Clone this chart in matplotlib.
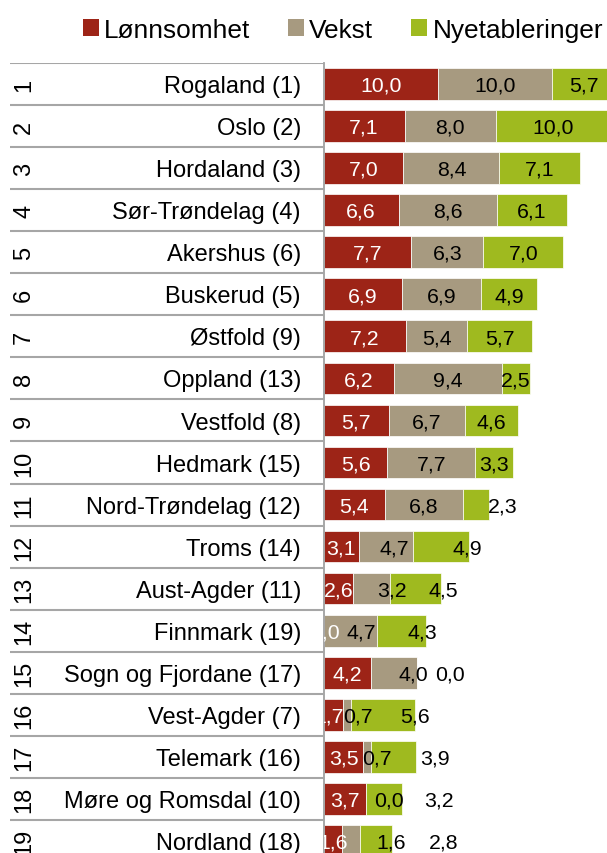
import matplotlib.pyplot as plt
from matplotlib.patches import Patch
import numpy as np

plt.rcParams['font.family'] = ['Liberation Sans', 'DejaVu Sans']

# fylker, rangert, med fjorårets plassering i parentes
fylker = ["Rogaland (1)", "Oslo (2)", "Hordaland (3)", "Sør-Trøndelag (4)", "Akershus (6)",
          "Buskerud (5)", "Østfold (9)", "Oppland (13)", "Vestfold (8)", "Hedmark (15)",
          "Nord-Trøndelag (12)", "Troms (14)", "Aust-Agder (11)", "Finnmark (19)",
          "Sogn og Fjordane (17)", "Vest-Agder (7)", "Telemark (16)", "Møre og Romsdal (10)",
          "Nordland (18)"]
lonnsomhet = [10.0, 7.1, 7.0, 6.6, 7.7, 6.9, 7.2, 6.2, 5.7, 5.6, 5.4, 3.1, 2.6, 0.0, 4.2, 1.7, 3.5, 3.7, 1.6]
vekst = [10.0, 8.0, 8.4, 8.6, 6.3, 6.9, 5.4, 9.4, 6.7, 7.7, 6.8, 4.7, 3.2, 4.7, 4.0, 0.7, 0.7, 0.0, 1.6]
nyetableringer = [5.7, 10.0, 7.1, 6.1, 7.0, 4.9, 5.7, 2.5, 4.6, 3.3, 2.3, 4.9, 4.5, 4.3, 0.0, 5.6, 3.9, 3.2, 2.8]
serier = ["Lønnsomhet", "Vekst", "Nyetableringer"]

farger = ['#9d2417', '#a79a80', '#9fba1f']
tekstfarger = ['white', 'black', 'black']
# etikettene på de korte stolpene er flyttet litt mot høyre
flytt = [
    [0] * 13 + [0.1, 0, -0.35, 0, 0, 0],
    [0] * 11 + [0.76, 1.82, 0.96, 1.64, 1.0, 0.8, 2.0, 3.5],
    [0] * 10 + [2.37, 2.34, 2.4, 1.84, 2.9, 2.8, 3.6, 4.8, 5.9],
]

W, H = 607, 854
fig = plt.figure(figsize=(W / 100, H / 100), dpi=100)

n = len(fylker)
rad = 42.05
topp = 64
ax_h = n * rad / H
ax_b = 1 - (topp + n * rad) / H

ax = fig.add_axes([323.5 / W, ax_b, 285.5 / W, ax_h])
tab = fig.add_axes([10 / W, ax_b, 313.5 / W, ax_h], sharey=ax)

y = np.arange(n)
venstre = np.zeros(n)
for verdier, farge, tf, dx in zip([lonnsomhet, vekst, nyetableringer], farger, tekstfarger, flytt):
    verdier = np.array(verdier)
    ax.barh(y, verdier, left=venstre, height=0.755, color=farge, edgecolor='white', linewidth=0.5)
    for i in range(n):
        xm = venstre[i] + verdier[i] / 2 + dx[i]
        ax.text(xm, i + 0.03, f"{verdier[i]:.1f}".replace('.', ','), ha='center', va='center',
                color=tf, fontsize=15.3, clip_on=True)
    venstre = venstre + verdier

ax.set_xlim(0, 25)
ax.set_ylim(n - 0.5, -0.5)
ax.set_xticks([])
ax.set_yticks([])
for s in ['top', 'right', 'bottom']:
    ax.spines[s].set_visible(False)
ax.spines['left'].set_color('#a0a0a0')
ax.spines['left'].set_linewidth(1.3)

# tabellen med rangering og navn til venstre
tab.axis('off')
tab.set_xlim(0, 1)
for i in range(n):
    tab.hlines(i - 0.5, 0, 1, color='#a6a6a6', linewidth=1.5)
    tab.text(0.045, i, str(i + 1), rotation=90, ha='center', va='center', fontsize=17)
    tab.text(0.928, i + 0.05, fylker[i], ha='right', va='center', fontsize=17)

handles = [Patch(facecolor=c) for c in farger]
fig.legend(handles, serier, loc='center', bbox_to_anchor=(343 / W, 1 - 31 / H), ncol=3,
           frameon=False, fontsize=18.9, handlelength=0.6, handleheight=0.6,
           handletextpad=0.2, columnspacing=1.45)

fig.savefig('out.png', dpi=100)
